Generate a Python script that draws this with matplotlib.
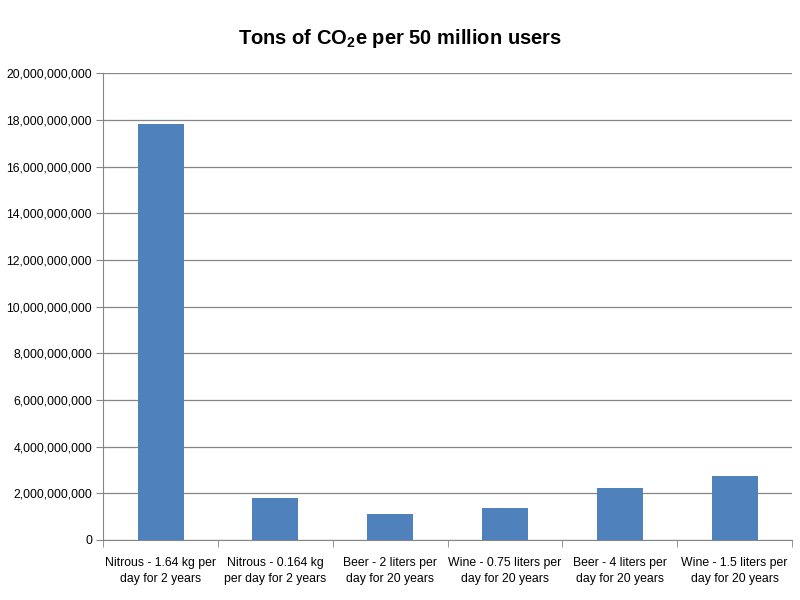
import matplotlib
matplotlib.use("Agg")
import matplotlib.pyplot as plt
from matplotlib.ticker import FuncFormatter, FixedLocator
import numpy as np

categories = [
    "Nitrous - 1.64 kg per\nday for 2 years",
    "Nitrous - 0.164 kg\nper day for 2 years",
    "Beer - 2 liters per\nday for 20 years",
    "Wine - 0.75 liters per\nday for 20 years",
    "Beer - 4 liters per\nday for 20 years",
    "Wine - 1.5 liters per\nday for 20 years",
]
tons_co2e = [17.82e9, 1.81e9, 1.11e9, 1.37e9, 2.23e9, 2.74e9]

plt.rcParams["font.family"] = "Liberation Sans"
plt.rcParams["mathtext.fontset"] = "custom"
plt.rcParams["mathtext.bf"] = "Liberation Sans:bold"
plt.rcParams["mathtext.default"] = "bf"

grey = "#868686"

fig = plt.figure(figsize=(8, 6), dpi=100)
ax = fig.add_axes([0.129, 0.1, 0.861, 0.778])

xs = np.arange(len(categories))
ax.bar(xs, tons_co2e, width=0.4, color="#4f81bd", zorder=3)

ax.set_xlim(-0.5, len(categories) - 0.5)
ax.set_ylim(0, 20e9)
ax.set_yticks(np.arange(0, 20e9 + 1, 2e9))
ax.yaxis.set_major_formatter(FuncFormatter(lambda v, p: "{:,.0f}".format(v)))
ax.set_xticks(xs)
ax.set_xticklabels(categories, fontsize=8.8, linespacing=1.45)
ax.tick_params(axis="x", length=0, pad=12)
ax.xaxis.set_minor_locator(FixedLocator(np.arange(-0.5, len(categories), 1.0)))
ax.tick_params(axis="x", which="minor", length=5, color=grey)
ax.tick_params(axis="y", labelsize=8.8, length=5, color=grey, pad=3)

ax.grid(axis="y", color=grey, linewidth=0.9, zorder=0)
for side in ["top", "right"]:
    ax.spines[side].set_visible(False)
ax.spines["left"].set_color(grey)
ax.spines["bottom"].set_color(grey)

fig.text(0.5, 0.935, "Tons of CO$_2$e per 50 million users", ha="center",
         va="center", fontsize=14.5, fontweight="bold")

fig.savefig("out.png", dpi=100)
